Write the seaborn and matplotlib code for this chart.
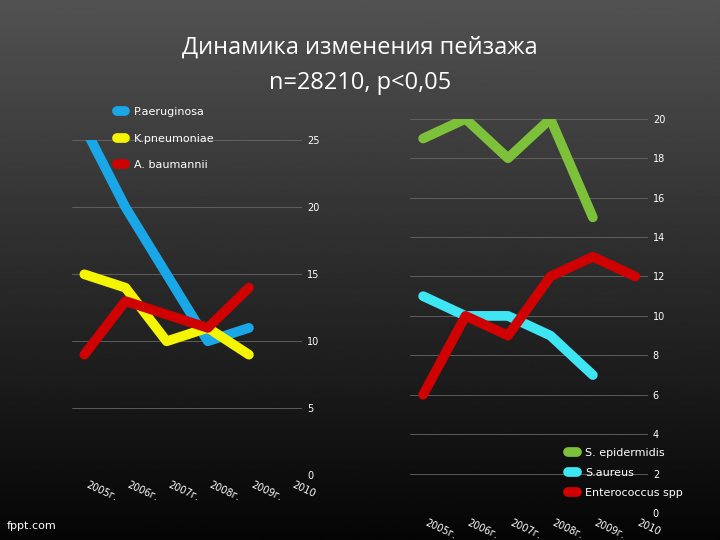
import numpy as np
import matplotlib.pyplot as plt
import seaborn as sns
import pandas as pd

years = ['2005г.', '2006г.', '2007г.', '2008г.', '2009г.', '2010', '2011']

# left panel
p_aer = [26, 20, 15, 10, 11]
k_pn = [15, 14, 10, 11, 9]
a_bau = [9, 13, 12, 11, 14]
left_names = ['P.aeruginosa', 'K.pneumoniae', 'A. baumannii']
left_colors = ['#1aa7e8', '#f5f500', '#d00000']

# right panel
s_epi = [19, 20, 18, 20, 15]
s_aur = [11, 10, 10, 9, 7]
enter = [6, 10, 9, 12, 13, 12]
right_names = ['S. epidermidis', 'S.aureus', 'Enterococcus spp']
right_colors = ['#7dc13a', '#3de6f2', '#d00000']

sns.set_style('dark')
fig = plt.figure(figsize=(7.2, 5.4), dpi=100)
bg = fig.add_axes([0, 0, 1, 1])
grad = np.linspace(0.32, 0.02, 256).reshape(-1, 1)
bg.imshow(grad, aspect='auto', cmap='gray', vmin=0, vmax=1, extent=[0, 1, 0, 1])
bg.axis('off')

fig.text(0.5, 0.9, 'Динамика изменения пейзажа', color='white', fontsize=17, ha='center',
         family=['Open Sans', 'DejaVu Sans'])
fig.text(0.5, 0.835, 'n=28210, p<0,05', color='white', fontsize=17, ha='center',
         family=['Open Sans', 'DejaVu Sans'])


def panel(rect, series, names, colors, ymax, step, legend_y, spacing):
    ax = fig.add_axes(rect)
    ax.set_facecolor('none')
    for vals, name, col in zip(series, names, colors):
        df = pd.DataFrame({'x': np.arange(len(vals)), 'y': vals})
        sns.lineplot(data=df, x='x', y='y', ax=ax, color=col, linewidth=7, label=name)
    ax.set_ylim(0, ymax)
    ax.set_xlim(-0.3, 5.3)
    ax.yaxis.tick_right()
    ax.set_yticks(np.arange(0, ymax + 1, step))
    ax.tick_params(colors='white', labelsize=7, length=0)
    ax.set_xticks(range(6))
    ax.set_xticklabels(years[:6], rotation=-25, ha='left')
    ax.set_xlabel('')
    ax.set_ylabel('')
    ax.grid(axis='y', color='#666666', linewidth=0.6)
    for s in ax.spines.values():
        s.set_visible(False)
    ax.legend(loc='upper left', bbox_to_anchor=legend_y, frameon=False, labelcolor='white',
              fontsize=8, labelspacing=spacing, handlelength=0.8)
    return ax


panel([0.10, 0.12, 0.32, 0.62], [p_aer, k_pn, a_bau], left_names, left_colors, 25, 5, (0.15, 1.13), 1.5)
panel([0.57, 0.05, 0.33, 0.73], [s_epi, s_aur, enter], right_names, right_colors, 20, 2, (0.62, 0.19), 0.9)

fig.text(0.01, 0.02, 'fppt.com', color='white', fontsize=8)
fig.savefig('out.png', dpi=100)
